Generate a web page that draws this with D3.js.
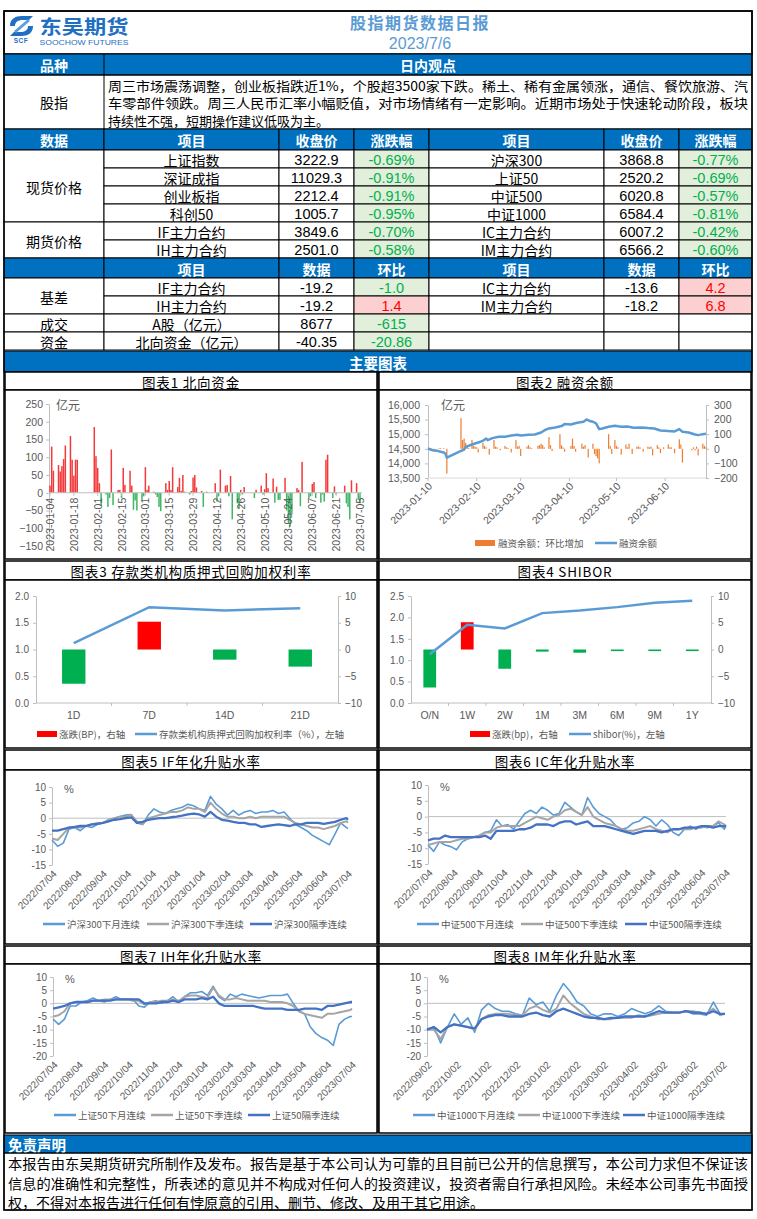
<!DOCTYPE html>
<html><head><meta charset="utf-8"><title>股指期货数据日报</title>
<script src="https://cdn.jsdelivr.net/npm/d3@7/dist/d3.min.js"></script>
<style>html,body{margin:0;padding:0;background:#fff}svg{display:block}</style>
</head><body><svg id="page" width="757" height="1219"></svg>
<script>
// ================= DATA =================
const reportTitle = "股指期货数据日报";
const reportDate = "2023/7/6";
const viewLabel = "股指";
const viewLines = [
  "周三市场震荡调整，创业板指跌近1%，个股超3500家下跌。稀土、稀有金属领涨，通信、餐饮旅游、汽",
  "车零部件领跌。周三人民币汇率小幅贬值，对市场情绪有一定影响。近期市场处于快速轮动阶段，板块",
  "持续性不强，短期操作建议低吸为主。"
];
const priceHead = ["数据","项目","收盘价","涨跌幅","项目","收盘价","涨跌幅"];
const priceGroups = [["现货价格",4],["期货价格",2]];
const priceRows = [
  ["上证指数","3222.9","-0.69%","沪深300","3868.8","-0.77%"],
  ["深证成指","11029.3","-0.91%","上证50","2520.2","-0.69%"],
  ["创业板指","2212.4","-0.91%","中证500","6020.8","-0.57%"],
  ["科创50","1005.7","-0.95%","中证1000","6584.4","-0.81%"],
  ["IF主力合约","3849.6","-0.70%","IC主力合约","6007.2","-0.42%"],
  ["IH主力合约","2501.0","-0.58%","IM主力合约","6566.2","-0.60%"]
];
const basisHead = ["","项目","数据","环比","项目","数据","环比"];
const basisGroups = [["基差",2],["成交",1],["资金",1]];
const basisRows = [
  ["IF主力合约","-19.2","-1.0","IC主力合约","-13.6","4.2"],
  ["IH主力合约","-19.2","1.4","IM主力合约","-18.2","6.8"],
  ["A股（亿元）","8677","-615","","",""],
  ["北向资金（亿元）","-40.35","-20.86","","",""]
];
const disclaimer = [
  "本报告由东吴期货研究所制作及发布。报告是基于本公司认为可靠的且目前已公开的信息撰写，本公司力求但不保证该",
  "信息的准确性和完整性，所表述的意见并不构成对任何人的投资建议，投资者需自行承担风险。未经本公司事先书面授",
  "权，不得对本报告进行任何有悖原意的引用、删节、修改、及用于其它用途。"
];
const chartTitles = ["图表1  北向资金","图表2  融资余额","图表3  存款类机构质押式回购加权利率","图表4  SHIBOR",
  "图表5  IF年化升贴水率","图表6  IC年化升贴水率","图表7  IH年化升贴水率","图表8  IM年化升贴水率"];

// Chart 1: northbound flow (亿元)
const northDates = ["2023-01-04","2023-01-05","2023-01-06","2023-01-09","2023-01-10","2023-01-11","2023-01-12","2023-01-13","2023-01-16","2023-01-17","2023-01-18","2023-01-19","2023-01-20","2023-01-30","2023-01-31",
"2023-02-01","2023-02-02","2023-02-03","2023-02-06","2023-02-07","2023-02-08","2023-02-09","2023-02-10","2023-02-13","2023-02-14","2023-02-15","2023-02-16","2023-02-17","2023-02-20","2023-02-21","2023-02-22","2023-02-23","2023-02-24","2023-02-27","2023-02-28",
"2023-03-01","2023-03-02","2023-03-03","2023-03-06","2023-03-07","2023-03-08","2023-03-09","2023-03-10","2023-03-13","2023-03-14","2023-03-15","2023-03-16","2023-03-17","2023-03-20","2023-03-21","2023-03-22","2023-03-23","2023-03-24","2023-03-27","2023-03-28","2023-03-29","2023-03-30","2023-03-31",
"2023-04-03","2023-04-04","2023-04-06","2023-04-11","2023-04-12","2023-04-13","2023-04-14","2023-04-17","2023-04-18","2023-04-19","2023-04-20","2023-04-21","2023-04-24","2023-04-25","2023-04-26","2023-04-27","2023-04-28",
"2023-05-04","2023-05-05","2023-05-08","2023-05-09","2023-05-10","2023-05-11","2023-05-12","2023-05-15","2023-05-16","2023-05-17","2023-05-18","2023-05-19","2023-05-22","2023-05-23","2023-05-24","2023-05-25","2023-05-26","2023-05-29","2023-05-30","2023-05-31",
"2023-06-01","2023-06-05","2023-06-06","2023-06-07","2023-06-08","2023-06-09","2023-06-12","2023-06-13","2023-06-14","2023-06-15","2023-06-16","2023-06-19","2023-06-20","2023-06-21","2023-06-26","2023-06-27","2023-06-28","2023-06-29","2023-06-30",
"2023-07-03","2023-07-04","2023-07-05"];
const northFlow = [20,130,62,78,60,75,95,133,160,93,48,93,93,185,103,
70,27,-37,-5,-40,-15,122,-35,8,8,-15,70,22,62,20,-48,-22,-50,-20,-10,
72,8,20,3,-5,-12,-40,-52,27,8,33,8,72,16,42,5,50,3,-5,5,43,50,15,
5,-40,3,27,-25,-10,65,20,22,-10,47,-75,-30,-45,8,-5,16,
-15,8,20,-5,10,55,13,40,-28,17,-20,-20,42,-50,-85,-95,-60,13,8,-38,
87,-15,-10,25,30,-15,-28,-5,-25,93,107,-15,18,-5,20,-30,-40,-75,35,
27,-20,-30];
const northTicks = ["2023-01-04","2023-01-18","2023-02-01","2023-02-15","2023-03-01","2023-03-15","2023-03-29","2023-04-12","2023-04-26","2023-05-10","2023-05-24","2023-06-07","2023-06-21","2023-07-05"];
const northYTicks = [-150,-100,-50,0,50,100,150,200,250];

// Chart 2: margin balance
const marginDates = ["2023-01-10","2023-01-13","2023-01-16","2023-01-20","2023-01-21","2023-01-22","2023-01-30",
"2023-02-02","2023-02-03","2023-02-07","2023-02-11","2023-02-14","2023-02-16","2023-02-17","2023-02-20","2023-02-24","2023-02-28",
"2023-03-04","2023-03-08","2023-03-10","2023-03-15","2023-03-19","2023-03-23","2023-03-25","2023-03-28",
"2023-04-01","2023-04-05","2023-04-07","2023-04-11","2023-04-15","2023-04-19","2023-04-21","2023-04-23","2023-04-25","2023-04-27","2023-04-29",
"2023-05-01","2023-05-05","2023-05-09","2023-05-13","2023-05-17","2023-05-21","2023-05-26","2023-05-30",
"2023-06-03","2023-06-07","2023-06-12","2023-06-16","2023-06-19","2023-06-21","2023-06-25","2023-06-29",
"2023-07-01","2023-07-04","2023-07-06"];
const marginBal = [14509,14452,14430,14372,14337,14200,14400,
14475,14566,14647,14716,14773,14853,14796,14865,14911,14911,
14956,14979,14956,14979,14990,15060,15128,15197,
15232,15278,15346,15335,15392,15427,15507,15450,15427,15369,15174,
15197,15254,15289,15254,15266,15220,15232,15209,
15197,15128,15106,15094,15174,15083,15060,14990,
14968,15002,15014];
const marginChgDates = ["2023-01-12","2023-01-14","2023-01-17","2023-01-18","2023-01-20","2023-01-22","2023-01-31",
"2023-02-01","2023-02-02","2023-02-03","2023-02-04","2023-02-05","2023-02-07","2023-02-08","2023-02-09","2023-02-10","2023-02-11","2023-02-14","2023-02-15","2023-02-16","2023-02-18","2023-02-21","2023-02-22","2023-02-23","2023-02-25","2023-02-28",
"2023-03-01","2023-03-02","2023-03-04","2023-03-07","2023-03-08","2023-03-09","2023-03-10","2023-03-14","2023-03-15","2023-03-16","2023-03-17","2023-03-21","2023-03-22","2023-03-23","2023-03-24","2023-03-25","2023-03-28","2023-03-29","2023-03-30",
"2023-04-04","2023-04-05","2023-04-06","2023-04-07","2023-04-11","2023-04-12","2023-04-13","2023-04-14","2023-04-18","2023-04-19","2023-04-20","2023-04-22","2023-04-25","2023-04-26","2023-04-27","2023-04-28","2023-04-29",
"2023-05-05","2023-05-06","2023-05-07","2023-05-09","2023-05-10","2023-05-11","2023-05-13","2023-05-16","2023-05-17","2023-05-18","2023-05-20","2023-05-23","2023-05-24","2023-05-25","2023-05-27","2023-05-30","2023-05-31",
"2023-06-01","2023-06-02","2023-06-05","2023-06-06","2023-06-07","2023-06-09","2023-06-12","2023-06-13","2023-06-14","2023-06-16","2023-06-19","2023-06-20","2023-06-21","2023-06-27","2023-06-28","2023-06-29","2023-06-30",
"2023-07-01","2023-07-04","2023-07-05","2023-07-06"];
const marginChg = [-10,-20,5,5,5,-170,210,
60,70,40,15,5,60,20,15,10,-25,40,20,10,-40,60,15,10,-10,20,
10,5,-25,60,15,20,-50,15,25,10,5,20,25,35,25,10,80,25,-15,
100,25,10,-20,20,70,20,-20,35,15,25,-60,35,-35,-50,-65,-100,
100,20,-35,60,20,10,-40,30,10,35,-35,15,15,10,-20,15,10,
15,-45,25,10,-30,10,30,10,10,-30,65,30,-95,-10,10,-10,15,
-45,35,20,10];
const marginTicks = ["2023-01-10","2023-02-10","2023-03-10","2023-04-10","2023-05-10","2023-06-10"];
const marginLTicks = [13500,14000,14500,15000,15500,16000];
const marginRTicks = [-200,-100,0,100,200,300];

// Chart 3: repo rate
const repoTerms = ["1D","7D","14D","21D"];
const repoRate = [1.12,1.79,1.73,1.77];
const repoChg = [-6.4,5.2,-1.9,-3.2];
// Chart 4: SHIBOR
const shiborTerms = ["O/N","1W","2W","1M","3M","6M","9M","1Y"];
const shiborRate = [1.14,1.83,1.74,2.10,2.16,2.24,2.34,2.39];
const shiborChg = [-7.1,5.1,-3.6,-0.4,-0.6,-0.3,-0.3,-0.3];

// Charts 5-7: weekly readings
const weekA = ["2022-07-04","2022-07-11","2022-07-18","2022-07-25","2022-08-01","2022-08-08","2022-08-15","2022-08-22","2022-08-29","2022-09-05","2022-09-12","2022-09-19","2022-09-26","2022-10-03","2022-10-10","2022-10-17","2022-10-24","2022-10-31","2022-11-07","2022-11-14","2022-11-21","2022-11-28","2022-12-05","2022-12-12","2022-12-19","2022-12-26","2023-01-02","2023-01-09","2023-01-16","2023-01-23","2023-01-30","2023-02-06","2023-02-13","2023-02-20","2023-02-27","2023-03-06","2023-03-13","2023-03-20","2023-03-27","2023-04-03","2023-04-10","2023-04-17","2023-04-24","2023-05-01","2023-05-08","2023-05-15","2023-05-22","2023-05-29","2023-06-05","2023-06-12","2023-06-19","2023-06-26","2023-07-03","2023-07-05"];
const ifNextMonth = [-7,-9,-8,-3.5,-3,-4,-2.5,-3,-2,-1.5,-0.5,0,0.5,1,1.2,-1.5,-2,1,3,2,1.5,2.5,3,3.5,4.5,4,3,2.5,7,4.5,3,1,2.5,1,2,2.5,1.5,2,2,2.5,1.5,2,0,-2,-3,-4,-5.5,-6.5,-7.5,-8.5,-5,-1.5,-3,-3.3];
const ifNextQuarter = [-6.5,-7,-5,-3,-3,-3,-2.5,-2,-1.5,-1.5,-0.5,0,0.5,0.5,1,-1,-2,0,0.5,1,1.5,2,2,2.5,3.5,3,3,2,5,3,1.5,0.5,0.5,0,0,0.5,0,0.5,0.5,0.5,0.5,0.5,-0.5,-1.5,-2,-2.5,-3,-3,-3.5,-3,-2.5,-1.5,-1,-1.5];
const ifFarQuarter = [-4,-4,-3.5,-3,-2.8,-2.5,-2.5,-2,-1.8,-1.5,-1,-0.5,-0.3,0,0.3,-1.5,-1.2,-0.5,-0.2,0,0,0.3,0.5,0.8,1.2,1.5,1.2,0.5,2,0.5,-0.5,-0.8,-1.2,-1.5,-1.5,-2,-2,-2.8,-2.5,-2.2,-2,-2.2,-2.5,-2,-2,-1.5,-1.5,-1.5,-1.8,-1.5,-1.2,-0.5,0,-0.5];
const icNextMonth = [-9,-11,-8,-9,-9.5,-10.5,-8,-7,-6.5,-6,-5,-4.5,-1,-3,-2.5,-4,-1.5,1,2,1,3,2,0.5,1,4.5,3,1.5,0.5,6,3,1,0,-1,-3,-4,-3.5,-2,-1.5,0,-1,-3,-1,-2.5,-5,-6,-4,-3,-4,-3,-3.5,-3,-2,-4,-3];
const icNextQuarter = [-9,-8.5,-8,-8,-8,-7.5,-7,-7,-6.5,-6,-5,-5,-3.5,-3,-3,-3,-3,-2,-1,0,-0.5,-1,0,0.5,2,2.5,1.5,0.5,3,0,-1,-2,-2.5,-3,-4,-4.5,-4.5,-4,-3.5,-3,-4,-4.5,-5,-4,-4,-4,-4,-3.5,-3.5,-3,-3,-1.5,-2.5,-3];
const icFarQuarter = [-7.5,-7,-7,-6,-6.5,-6.5,-6.5,-6.5,-6.5,-6.5,-6,-7,-4.5,-4.5,-4.5,-4.5,-4,-4,-3.5,-2.5,-2.5,-2.5,-3,-2,-1.5,-1.5,-2.5,-2,-1.5,-3,-3,-3,-3.5,-4,-4.5,-5,-5.5,-5,-4.5,-4.5,-4.5,-5,-4.5,-4,-4,-3.5,-3.5,-3.5,-3,-3,-3.5,-3,-3,-3];
const ihNextMonth = [-6,-8,-6,-1,-1,0.5,1,2,1,0.5,1.5,2.5,1.5,1.5,1.5,-1,-1.5,0.5,1,0,1,2.5,0.5,2.5,4,4,4.5,3,6.5,2.5,1,3.5,2.5,3.5,3,2.5,2,2.5,3,3,3,3.5,0,-3,-4,-9,-11.5,-13,-14,-16,-8,-6,-5,-5];
const ihNextQuarter = [-5,-4.5,-3,0,0.5,0.5,0.5,1,1,1.5,1.5,1.5,1.5,1.5,1,1,-0.5,0.5,0.5,1,1,1.5,1,2.5,3,3,2.5,2,6,3,1.5,1.5,2,1.5,1,1,1,1,0.5,0.5,0.5,0,-1,-3,-4,-4.5,-5,-5.5,-4,-4,-3.5,-3,-2.5,-2];
const ihFarQuarter = [-2,-1.5,-1,0,0.5,0.5,0.5,1,1,1,1,1.5,1.5,1.5,1.5,1.5,0,0,0,0.5,0.5,1,0.5,1.5,1.5,1.5,2,1.5,2.5,0,-1,-1,-1,-1,-1,-1,-1.5,-2,-2,-2,-2,-2.5,-2.5,-2.5,-2,-2,-2,-2.5,-1,-1,-0.5,0,0.5,0.5];
const monthTicksA = ["2022/07/04","2022/08/04","2022/09/04","2022/10/04","2022/11/04","2022/12/04","2023/01/04","2023/02/04","2023/03/04","2023/04/04","2023/05/04","2023/06/04","2023/07/04"];
// Chart 8
const weekB = ["2022-09-02","2022-09-09","2022-09-16","2022-09-23","2022-09-30","2022-10-07","2022-10-14","2022-10-21","2022-10-28","2022-11-04","2022-11-11","2022-11-18","2022-11-25","2022-12-02","2022-12-09","2022-12-16","2022-12-23","2022-12-30","2023-01-06","2023-01-13","2023-01-20","2023-01-27","2023-02-03","2023-02-10","2023-02-17","2023-02-24","2023-03-03","2023-03-10","2023-03-17","2023-03-24","2023-03-31","2023-04-07","2023-04-14","2023-04-21","2023-04-28","2023-05-05","2023-05-12","2023-05-19","2023-05-26","2023-06-02","2023-06-09","2023-06-16","2023-06-23","2023-06-30","2023-07-05"];
const imNextMonth = [-10,-9,-15,-9,-4,-8,-5.5,-11,-2.5,0,-2,-3,-3,-4,-4.5,2,-0.5,0.5,-3,3,7.5,4.5,0.5,-1,-4,-5,-4,-4,-5,-4,-2,-3,-4,-3,-1,-3,-3.5,-3.5,-3,-4,-4,-4.5,0.5,-4,-4];
const imNextQuarter = [-10,-10,-13.5,-9,-8,-8.5,-9,-10,-6,-4.5,-4,-4,-4,-4.5,-4.5,-2,-1,-2.5,-3.5,-2,3,0,-2,-4,-5,-6,-6,-6,-5.5,-5.5,-5.5,-4.5,-5,-4.5,-4,-3.5,-3.5,-3.5,-3,-3,-3.5,-4,-2,-4.5,-4];
const imFarQuarter = [-10,-9,-11,-9,-8,-8.5,-9,-9.5,-6,-5,-4.5,-4.5,-5,-5,-5,-4,-3.5,-4.5,-5,-3,-2,-3,-4,-5,-5.5,-5.5,-6,-5.5,-5.5,-5,-5,-5,-5,-4,-3,-3.5,-3.5,-3.5,-3,-3.5,-3.5,-4,-3,-4,-4];
const monthTicksB = ["2022/09/02","2022/10/02","2022/11/02","2022/12/02","2023/01/02","2023/02/02","2023/03/02","2023/04/02","2023/05/02","2023/06/02","2023/07/02"];

// ================= DRAWING =================
const svg = d3.select("#page");
const CN = "'Noto Sans CJK SC','Noto Sans',sans-serif";
const AR = "'Liberation Sans',Arial,'Noto Sans CJK SC',sans-serif";
const NR = "'Liberation Sans Narrow','Liberation Sans',Arial,sans-serif";
const BLUE = "#0070c0", GRAY = "#595959", AXC = "#bfbfbf";
const GREENBG = "#e2efda", GREENTX = "#00b050", REDBG = "#fcd0d0", REDTX = "#ff0000";
const C_LB = "#5b9bd5", C_GR = "#a5a5a5", C_DB = "#4472c4";
const pD = d3.timeParse("%Y-%m-%d"), pS = d3.timeParse("%Y/%m/%d");

function T(p, x, y, s, o = {}) {
  const t = p.append("text").attr("x", x).attr("y", y).text(s)
    .attr("font-family", o.ff || CN).attr("font-size", o.fs || 13)
    .attr("fill", o.fill || "#000").attr("text-anchor", o.anchor || "middle")
    .attr("dominant-baseline", o.db || "central");
  if (o.fw) t.attr("font-weight", o.fw);
  if (o.ls != null) t.attr("letter-spacing", o.ls);
  if (o.tl) t.attr("textLength", o.tl).attr("lengthAdjust", "spacingAndGlyphs");
  if (o.rot != null) t.attr("transform", `rotate(${o.rot},${x},${y})`);
  return t;
}
function R(p, x, y, w, h, fill, stroke, sw) {
  return p.append("rect").attr("x", x).attr("y", y).attr("width", w).attr("height", h)
    .attr("fill", fill || "none").attr("stroke", stroke || "none").attr("stroke-width", sw || 1);
}
function L(p, x1, y1, x2, y2, c, w) {
  return p.append("line").attr("x1", x1).attr("y1", y1).attr("x2", x2).attr("y2", y2)
    .attr("stroke", c || "#000").attr("stroke-width", w || 1);
}

R(svg, 0, 0, 757, 1219, "#fff");

// ---- header ----
const hg = svg.append("g");
R(hg, 4, 11, 748, 43, "#fff", "#000", 1.5);
const lg = hg.append("g");
lg.append("path").attr("d", "M10,26 C10,19 15,16 22,16 L33,16 L29,20 L23,20 C18,20 15,22 15,26 Z").attr("fill", "#1f6fc2");
lg.append("path").attr("d", "M33,26 C33,33 28,36 21,36 L10,36 L14,32 L20,32 C25,32 28,30 28,26 Z").attr("fill", "#1f6fc2");
lg.append("path").attr("d", "M14,31 L28,19 L30,21 L16,33 Z").attr("fill", "#5aa0e0");
T(lg, 21, 40.5, "SCF", { ff: AR, fs: 6.5, fw: "bold", fill: "#1f6fc2", ls: 0.5 });
T(hg, 84, 25, "东吴期货", { fs: 19, fw: "bold", fill: "#1f6fc2", tl: 89 });
T(hg, 84, 42, "SOOCHOW FUTURES", { ff: AR, fs: 7, fill: "#1f6fc2", tl: 89 });
T(hg, 420, 22, reportTitle, { fs: 16, fw: "bold", fill: "#5b9bd5", ls: 1.5 });
T(hg, 420, 43, reportDate, { ff: AR, fs: 16, fill: "#5b9bd5" });

// ---- view row ----
R(svg, 4, 54, 748, 21, BLUE, "#000", 1);
L(svg, 104, 54, 104, 129, "#000", 1);
T(svg, 54, 64.5, "品种", { fs: 14, fw: "bold", fill: "#fff" });
T(svg, 428, 64.5, "日内观点", { fs: 14, fw: "bold", fill: "#fff" });
R(svg, 4, 75, 748, 54, "none", "#000", 1);
T(svg, 54, 102, viewLabel, { fs: 14 });
viewLines.forEach((s, i) => {
  const o = { fs: 13, anchor: "start" };
  if (i < 2) o.tl = 640;
  T(svg, 108, 85 + i * 17.5, s, o);
});

// ---- tables ----
const cols = [4, 104, 279, 354, 429, 604, 679, 752];
const tg = svg.append("g");
function cellRect(c0, c1, y0, y1, fill) { R(tg, cols[c0], y0, cols[c1] - cols[c0], y1 - y0, fill, "#000", 1); }
function bodyRows(rows, y0) {
  rows.forEach((r, i) => {
    const ya = y0 + 18 * i;
    r.forEach((v, j) => {
      const c = j + 1, isChg = (c === 3 || c === 6);
      let fill = "#fff", col = "#000";
      if (isChg && v !== "") {
        const neg = v.startsWith("-");
        fill = neg ? GREENBG : REDBG; col = neg ? GREENTX : REDTX;
      }
      cellRect(c, c + 1, ya, ya + 18, fill);
      if (v !== "") T(tg, (cols[c] + cols[c + 1]) / 2, ya + 9.5, v,
        { fs: (c === 1 || c === 4) ? 14 : 14.5, fill: col, ff: (c === 1 || c === 4) ? CN : NR });
    });
  });
}
function groups(gs, y0) {
  let gy = y0;
  gs.forEach(([lab, n]) => {
    cellRect(0, 1, gy, gy + 18 * n, "#fff");
    T(tg, 54, gy + 9 * n + 0.5, lab, { fs: 14 });
    gy += 18 * n;
  });
}
function headRow(h, y0, hh) {
  h.forEach((s, c) => {
    cellRect(c, c + 1, y0, y0 + hh, BLUE);
    if (s) T(tg, (cols[c] + cols[c + 1]) / 2, y0 + hh / 2 + 0.5, s, { fs: 14, fw: "bold", fill: "#fff" });
  });
}
headRow(priceHead, 129, 21);
groups(priceGroups, 150);
bodyRows(priceRows, 150);
headRow(basisHead, 258, 20);
groups(basisGroups, 278);
bodyRows(basisRows, 278);

// ---- main charts bar ----
R(svg, 4, 351, 748, 21, BLUE, "#000", 1);
T(svg, 378, 362, "主要图表", { fs: 14.5, fw: "bold", fill: "#fff" });

// ---- panels ----
const rowsP = [[372, 390, 559], [561, 580, 748], [750, 770, 944], [946, 964, 1133]];
rowsP.forEach((r, i) => {
  [[5, 377], [379, 751]].forEach(([a, b], k) => {
    R(svg, a, r[0], b - a, r[1] - r[0], "#fff", "#000", 1.5);
    R(svg, a, r[1], b - a, r[2] - r[1], "#fff", "#000", 1.5);
    T(svg, (a + b) / 2, (r[0] + r[1]) / 2 + 0.5, chartTitles[i * 2 + k], { fs: 13.5, ls: 0.8 });
  });
});

function styleAxis(ga, fs) {
  ga.select(".domain").attr("stroke", AXC);
  ga.selectAll(".tick line").attr("stroke", AXC);
  ga.selectAll(".tick text").attr("fill", GRAY).attr("font-size", fs || 10.5).attr("font-family", AR);
}
function legendLine(g, x, y, color, label, w) {
  L(g, x, y, x + 22, y, color, w || 2.5);
  T(g, x + 24, y, label, { fs: 9.5, fill: GRAY, anchor: "start" });
}

// ---- Chart 1 ----
(function () {
  const g = svg.append("g");
  const x = d3.scaleTime().domain([pD("2023-01-04"), pD("2023-07-05")]).range([50, 360]);
  const y = d3.scaleLinear().domain([-150, 250]).range([546, 404]);
  const ga = g.append("g").attr("transform", "translate(49,0)")
    .call(d3.axisLeft(y).tickValues(northYTicks).tickSize(3).tickSizeOuter(0).tickPadding(3));
  styleAxis(ga, 10.5);
  const data = northDates.map((d, i) => ({ d: pD(d), v: northFlow[i] }));
  g.selectAll(".nb").data(data).enter().append("rect")
    .attr("x", d => x(d.d) - 0.75).attr("width", 1.5)
    .attr("y", d => Math.min(y(0), y(d.v))).attr("height", d => Math.abs(y(d.v) - y(0)))
    .attr("fill", d => d.v >= 0 ? "#f23a3a" : "#3db865");
  L(g, 49, y(0), 362, y(0), AXC, 1);
  northTicks.forEach(s => {
    const xx = x(pD(s));
    L(g, xx, y(0), xx, y(0) + 3, AXC, 1);
    T(g, xx, y(0) + 5, s, { ff: AR, fs: 10.5, fill: GRAY, anchor: "end", rot: -90 });
  });
  T(g, 56, 404, "亿元", { fs: 12, fill: GRAY, anchor: "start" });
})();

// ---- Chart 2 ----
(function () {
  const g = svg.append("g");
  const x = d3.scaleTime().domain([pD("2023-01-10"), pD("2023-07-06")]).range([428, 706]);
  const yl = d3.scaleLinear().domain([13500, 16000]).range([478, 405]);
  const yr = d3.scaleLinear().domain([-200, 300]).range([478, 405]);
  const gl = g.append("g").attr("transform", "translate(428,0)")
    .call(d3.axisLeft(yl).tickValues(marginLTicks).tickSize(3).tickSizeOuter(0).tickPadding(5).tickFormat(d3.format(",")));
  styleAxis(gl, 10.5);
  const gr = g.append("g").attr("transform", "translate(706,0)")
    .call(d3.axisRight(yr).tickValues(marginRTicks).tickSize(3).tickSizeOuter(0).tickPadding(5));
  styleAxis(gr, 10.5);
  L(g, 428, 478, 706, 478, "#d9d9d9", 1);
  const bars = marginChgDates.map((d, i) => ({ d: pD(d), v: marginChg[i] }));
  g.selectAll(".mb").data(bars).enter().append("rect")
    .attr("x", d => x(d.d) - 0.6).attr("width", 1.2)
    .attr("y", d => Math.min(yr(0), yr(d.v))).attr("height", d => Math.abs(yr(d.v) - yr(0)))
    .attr("fill", "#ed7d31");
  const line = marginDates.map((d, i) => ({ d: pD(d), v: marginBal[i] }));
  g.append("path").datum(line).attr("fill", "none").attr("stroke", C_LB).attr("stroke-width", 2.5)
    .attr("stroke-linejoin", "round")
    .attr("d", d3.line().x(d => x(d.d)).y(d => yl(d.v)));
  marginTicks.forEach(s => {
    const xx = x(pD(s));
    L(g, xx, 478, xx, 481, AXC, 1);
    T(g, xx + 2, 484, s, { ff: AR, fs: 10.5, fill: GRAY, anchor: "end", rot: -45 });
  });
  T(g, 441, 404, "亿元", { fs: 12, fill: GRAY, anchor: "start" });
  R(g, 475, 540, 20, 6, "#ed7d31");
  T(g, 498, 543, "融资余额：环比增加", { fs: 9.5, fill: GRAY, anchor: "start" });
  legendLine(g, 595, 543, C_LB, "融资余额", 2.5);
})();

// ---- Chart 3 & 4 (bar + line combo) ----
function combo(o) {
  const g = svg.append("g");
  const x = d3.scaleBand().domain(o.cats).range(o.xr);
  const yl = d3.scaleLinear().domain(o.yld).range([o.yb, o.yt]);
  const yr = d3.scaleLinear().domain([-10, 10]).range([o.yb, o.yt]);
  const gl = g.append("g").attr("transform", `translate(${o.xr[0]},0)`)
    .call(d3.axisLeft(yl).tickValues(o.ylt).tickSize(3).tickSizeOuter(0).tickPadding(4).tickFormat(d3.format(".1f")));
  styleAxis(gl, 10);
  const gr = g.append("g").attr("transform", `translate(${o.xr[1]},0)`)
    .call(d3.axisRight(yr).tickValues([-10, -5, 0, 5, 10]).tickSize(3).tickSizeOuter(0).tickPadding(4));
  styleAxis(gr, 10);
  L(g, o.xr[0], o.yb, o.xr[1], o.yb, AXC, 1);
  o.cats.forEach((c, i) => {
    if (i > 0) L(g, x(c), o.yb, x(c), o.yb + 3, AXC, 1);
    T(g, x(c) + x.bandwidth() / 2, o.yb + 12, c, { ff: AR, fs: 10.5, fill: GRAY });
  });
  const bw = x.bandwidth() * o.bwr;
  g.selectAll(".cb").data(o.chg).enter().append("rect")
    .attr("x", (d, i) => x(o.cats[i]) + (x.bandwidth() - bw) / 2).attr("width", bw)
    .attr("y", d => Math.min(yr(0), yr(d))).attr("height", d => Math.max(1.5, Math.abs(yr(d) - yr(0))))
    .attr("fill", d => d >= 0 ? "#ff0000" : "#00b050");
  g.append("path").datum(o.rate).attr("fill", "none").attr("stroke", C_LB).attr("stroke-width", 2.5)
    .attr("d", d3.line().x((d, i) => x(o.cats[i]) + x.bandwidth() / 2).y(d => yl(d)));
  R(g, o.lg[0], o.lgy - 3, 20, 6, "#ff0000");
  T(g, o.lg[0] + 22, o.lgy, o.lab1, { fs: 9.5, fill: GRAY, anchor: "start" });
  L(g, o.lg[1], o.lgy, o.lg[1] + 22, o.lgy, C_LB, 2.5);
  const t2 = T(g, o.lg[1] + 24, o.lgy, o.lab2, { fs: 9.5, fill: GRAY, anchor: "start" });
  if (o.tl2) t2.attr("textLength", o.tl2).attr("lengthAdjust", "spacingAndGlyphs");
}
combo({ cats: repoTerms, rate: repoRate, chg: repoChg, xr: [36, 338], yt: 596, yb: 703, yld: [0, 2], ylt: [0, 0.5, 1, 1.5, 2],
  bwr: 0.31, lg: [37, 135], lgy: 734, lab1: "涨跌(BP)，右轴", lab2: "存款类机构质押式回购加权利率（%），左轴", tl2: 185 });
combo({ cats: shiborTerms, rate: shiborRate, chg: shiborChg, xr: [411, 711], yt: 596, yb: 703, yld: [0, 2.5], ylt: [0, 0.5, 1, 1.5, 2, 2.5],
  bwr: 0.34, lg: [470, 569], lgy: 734, lab1: "涨跌(bp)，右轴", lab2: "shibor(%)，左轴" });

// ---- Charts 5-8 (time series lines) ----
function ts(o) {
  const g = svg.append("g");
  const x = d3.scaleTime().domain([pD(o.dates[0]), pD(o.dates[o.dates.length - 1])]).range(o.xr);
  const y = d3.scaleLinear().domain(o.yd).range(o.yr);
  const ga = g.append("g").attr("transform", `translate(${o.xr[0]},0)`)
    .call(d3.axisLeft(y).tickValues(o.yt).tickSize(3).tickSizeOuter(0).tickPadding(3).tickFormat(d => String(d)));
  styleAxis(ga, 10);
  L(g, o.xr[0], y(0), o.xr[1], y(0), AXC, 1);
  o.ticks.forEach(s => {
    const xx = x(pS(s));
    T(g, xx + 3, o.yr[0] + 7, s, { ff: AR, fs: 10, fill: GRAY, anchor: "end", rot: -45 });
  });
  T(g, o.xr[0] + 12, o.yr[1] + 2, "%", { ff: AR, fs: 11, fill: GRAY, anchor: "start" });
  const line = d3.line().x((d, i) => x(pD(o.dates[i]))).y(d => y(d));
  const styles = [[C_LB, 1.6], [C_GR, 2], [C_DB, 2.3]];
  o.series.forEach((s, k) => {
    g.append("path").datum(s).attr("fill", "none").attr("stroke", styles[k][0]).attr("stroke-width", styles[k][1])
      .attr("stroke-linejoin", "round").attr("d", line);
  });
  o.names.forEach((n, k) => legendLine(g, o.lx[k], o.ly, styles[k][0], n, 2.5));
}
ts({ dates: weekA, xr: [52, 348], yd: [-15, 10], yr: [865, 787], yt: [-15, -10, -5, 0, 5, 10], ticks: monthTicksA,
  series: [ifNextMonth, ifNextQuarter, ifFarQuarter], names: ["沪深300下月连续", "沪深300下季连续", "沪深300隔季连续"],
  lx: [43, 147, 250], ly: 924 });
ts({ dates: weekA, xr: [428, 726], yd: [-15, 10], yr: [864, 785], yt: [-15, -10, -5, 0, 5, 10], ticks: monthTicksA,
  series: [icNextMonth, icNextQuarter, icFarQuarter], names: ["中证500下月连续", "中证500下季连续", "中证500隔季连续"],
  lx: [417, 521, 625], ly: 924 });
ts({ dates: weekA, xr: [53, 352], yd: [-20, 10], yr: [1056, 977], yt: [-20, -15, -10, -5, 0, 5, 10], ticks: monthTicksA,
  series: [ihNextMonth, ihNextQuarter, ihFarQuarter], names: ["上证50下月连续", "上证50下季连续", "上证50隔季连续"],
  lx: [54, 151, 248], ly: 1115 });
ts({ dates: weekB, xr: [427, 725], yd: [-20, 10], yr: [1056, 977], yt: [-20, -15, -10, -5, 0, 5, 10], ticks: monthTicksB,
  series: [imNextMonth, imNextQuarter, imFarQuarter], names: ["中证1000下月连续", "中证1000下季连续", "中证1000隔季连续"],
  lx: [413, 518, 623], ly: 1115 });

// ---- disclaimer ----
R(svg, 4, 1135, 748, 18, BLUE, "#000", 1);
T(svg, 8, 1144, "免责声明", { fs: 14.5, fw: "bold", fill: "#fff", anchor: "start" });
R(svg, 4, 1153, 748, 57, "none", "#000", 1);
disclaimer.forEach((s, i) => {
  const o = { fs: 14, anchor: "start" };
  if (i < 2) o.tl = 740;
  T(svg, 8, 1163 + i * 19.5, s, o);
});
// outer border
R(svg, 4, 11, 748, 1199, "none", "#000", 1.5);
L(svg, 378, 372, 378, 1133, "#000", 1.5);
</script></body></html>
